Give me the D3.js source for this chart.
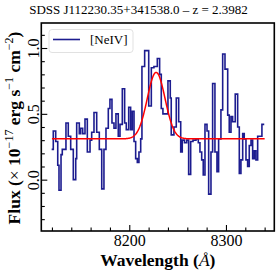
<!DOCTYPE html>
<html><head><meta charset="utf-8">
<script src="https://cdn.jsdelivr.net/npm/d3@7"></script>
<style>body{margin:0;background:#fff}svg{display:block}</style>
</head><body>
<script>
// Spectrum: left edges of each step (Å) and flux (1e-17 erg/s/cm2)
const waveEdges = [8119.7,8121.4,8123.9,8126.0,8127.3,8129.4,8130.7,8134.5,8136.9,8139.4,
 8142.1,8144.6,8145.6,8148.3,8149.7,8151.8,8154.2,8156.6,8159.4,8161.1,
 8163.5,8166.3,8169.0,8171.5,8173.8,8175.9,8178.3,8180.0,8182.1,8184.2,
 8186.2,8188.6,8190.4,8192.8,8195.2,8196.9,8199.4,8201.4,8203.1,8204.9,
 8206.6,8208.3,8210.0,8211.8,8213.1,8215.9,8220.1,8222.8,8225.5,8229.0,
 8231.4,8233.1,8234.8,8240.0,8242.4,8243.4,8246.2,8248.6,8251.1,8253.2,
 8254.8,8257.1,8259.4,8261.4,8263.5,8265.9,8269.0,8271.4,8273.1,8274.9,
 8276.5,8278.3,8280.4,8282.1,8284.5,8286.2,8288.6,8290.7,8292.4,8294.8,
 8296.6,8299.0,8301.8,8303.4,8305.2,8306.9,8309.6,8312.1,8313.8,8315.5,
 8317.3,8318.9,8320.7,8322.4,8324.1,8325.9,8327.6,8329.3,8331.0,8332.8,
 8337.2];
const waveEnd = 8339.6;
const flux = [0.23,0.37,0.29,0.11,-0.08,0.19,0.23,0.43,0.33,0.23,
 0.00,0.16,0.43,0.35,0.39,0.35,0.46,0.21,0.30,0.36,
 0.51,0.36,0.23,-0.07,0.23,0.39,0.54,0.61,0.43,0.39,
 0.50,0.33,0.42,0.69,0.43,0.38,0.55,0.38,0.52,0.29,
 0.16,0.13,0.21,0.31,0.86,0.98,0.56,0.85,0.86,0.92,
 0.80,0.54,0.50,0.75,0.62,0.34,0.40,0.62,0.44,0.21,
 0.30,0.28,0.30,0.04,0.29,0.30,0.31,0.28,0.21,0.15,
 0.035,0.42,0.37,-0.11,0.21,0.73,0.21,0.06,0.31,0.53,
 0.955,0.84,0.49,0.36,0.48,0.44,0.65,0.40,0.047,0.15,
 0.35,0.31,0.15,0.10,0.26,0.30,0.16,0.22,0.15,0.33,
 0.42];
// Gaussian fit parameters
const fitContinuum = 0.31, fitAmp = 0.505, fitCenter = 8227.8, fitSigma = 9.2;
const fitRange = [8120, 8340];
const xTicksMajor = [8200, 8300];
const yTicksMajor = [0.0, 0.5, 1.0];
const titleText = "SDSS J112230.35+341538.0 \u2013 z = 2.3982";
const legendLabel = "[NeIV]";

const W = 277, H = 277;
const svg = d3.select("body").append("svg").attr("width", W).attr("height", H);
const x = d3.scaleLinear().domain([8109, 8350]).range([41.3, 274.3]);
const y = d3.scaleLinear().domain([-0.39, 1.19]).range([231, 23]);
const serif = "'Liberation Serif','Times New Roman',serif";

svg.append("clipPath").attr("id","c").append("rect")
  .attr("x",41.3).attr("y",23).attr("width",233).attr("height",208);

// spectrum step line
const pts = waveEdges.map((w,i)=>[w, flux[i]]);
pts.push([waveEnd, flux[flux.length-1]]);
svg.append("path").attr("clip-path","url(#c)")
  .attr("d", d3.line().x(d=>x(d[0])).y(d=>y(d[1])).curve(d3.curveStepAfter)(pts))
  .attr("fill","none").attr("stroke","#1c1c8f").attr("stroke-width",1.6);

// gaussian model
const fitPts = d3.range(fitRange[0], fitRange[1]+0.01, 0.5).map(w =>
  [w, fitContinuum + fitAmp*Math.exp(-0.5*((w-fitCenter)/fitSigma)**2)]);
svg.append("path").attr("clip-path","url(#c)")
  .attr("d", d3.line().x(d=>x(d[0])).y(d=>y(d[1]))(fitPts))
  .attr("fill","none").attr("stroke","#ff0000").attr("stroke-width",1.5);

// axes (ticks inward)
const xMinor = d3.range(8120, 8350, 20).filter(v=>!xTicksMajor.includes(v));
const yMinor = d3.range(-3, 12).map(v=>v/10).filter(v=>!yTicksMajor.some(m=>Math.abs(m-v)<1e-9));
const gx = svg.append("g").attr("transform","translate(0,231)");
gx.call(d3.axisBottom(x).tickValues(xTicksMajor).tickSize(-6).tickPadding(4).tickFormat(d3.format("d")));
const gxm = svg.append("g").attr("transform","translate(0,231)");
gxm.call(d3.axisBottom(x).tickValues(xMinor).tickSize(-3.5).tickFormat(""));
const gy = svg.append("g").attr("transform","translate(41.3,0)");
gy.call(d3.axisLeft(y).tickValues(yTicksMajor).tickSize(-6).tickFormat(d3.format(".1f")));
const gym = svg.append("g").attr("transform","translate(41.3,0)");
gym.call(d3.axisLeft(y).tickValues(yMinor).tickSize(-3.5).tickFormat(""));
svg.selectAll(".domain").remove();
svg.selectAll(".tick line").attr("stroke","#000").attr("stroke-width",1.1);
gx.selectAll("text").attr("font-family",serif).attr("font-size",16).attr("fill","#000");
gy.selectAll("text").attr("font-family",serif).attr("font-size",16).attr("fill","#000")
  .attr("text-anchor","middle").attr("dy",null).attr("x",null).attr("y",null)
  .attr("transform", "translate(-2.5,0) rotate(-90)");

// frame
svg.append("rect").attr("x",41.3).attr("y",23).attr("width",233).attr("height",208)
  .attr("fill","none").attr("stroke","#000").attr("stroke-width",1.6);

// legend
svg.append("rect").attr("x",49).attr("y",29.5).attr("width",84).attr("height",23).attr("rx",3)
  .attr("fill","#fff").attr("fill-opacity",0.8).attr("stroke","#d9d9d9").attr("stroke-width",0.8);
svg.append("line").attr("x1",53).attr("x2",80).attr("y1",39.5).attr("y2",39.5)
  .attr("stroke","#1c1c8f").attr("stroke-width",1.6);
svg.append("text").attr("x",90).attr("y",44).attr("font-family",serif).attr("font-size",13)
  .text(legendLabel);

// title
svg.append("text").attr("x",138.5).attr("y",14).attr("text-anchor","middle")
  .attr("font-family",serif).attr("font-size",13).text(titleText);

// x label
const xl = svg.append("text").attr("x",157.8).attr("y",266).attr("text-anchor","middle")
  .attr("font-family",serif).attr("font-size",17.5).attr("font-weight","bold");
xl.append("tspan").text("Wavelength (");
xl.append("tspan").attr("font-style","italic").attr("font-weight","normal").text("\u00C5");
xl.append("tspan").text(")");

// y label
const yl = svg.append("text").attr("transform","translate(20,128) rotate(-90)").attr("text-anchor","middle")
  .attr("font-family",serif).attr("font-size",17.5).attr("font-weight","bold");
yl.append("tspan").text("Flux (");
yl.append("tspan").attr("font-weight","normal").text("\u00D7");
yl.append("tspan").text(" 10");
yl.append("tspan").attr("font-size",12).attr("font-weight","normal").attr("dy",-7).text("\u221217");
yl.append("tspan").attr("dy",7).text(" erg s");
yl.append("tspan").attr("font-size",12).attr("font-weight","normal").attr("dy",-7).text("\u22121");
yl.append("tspan").attr("dy",7).text(" cm");
yl.append("tspan").attr("font-size",12).attr("font-weight","normal").attr("dy",-7).text("\u22122");
yl.append("tspan").attr("dy",7).text(")");
</script>
</body></html>
